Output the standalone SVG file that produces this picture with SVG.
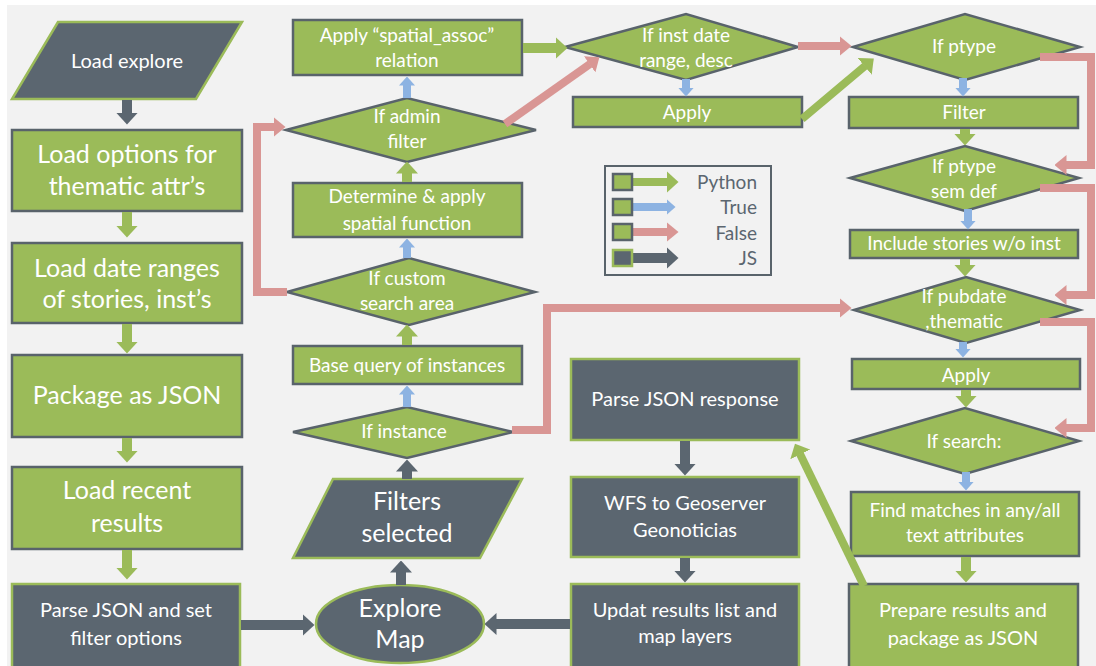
<svg xmlns="http://www.w3.org/2000/svg" width="1096" height="666" viewBox="0 0 1096 666">
  <style>
    .g { fill: #9bbb59; stroke: #59636b; stroke-width: 2.5; }
    .d { fill: #5b6670; stroke: #9bbb59; stroke-width: 2.5; }
    text { font-family: Lato, "Liberation Sans", sans-serif; fill: #ffffff; text-anchor: middle; }
    .big { font-size: 25px; }
    .mid { font-size: 20px; }
    .sm { font-size: 19px; }
    .leg { font-size: 19px; fill: #5b6670; text-anchor: end; }
    .c-js { stroke: #5b6670; stroke-width: 10; fill: none; }
    .c-py { stroke: #9bbb59; stroke-width: 10; fill: none; }
    .c-py2 { stroke: #9bbb59; stroke-width: 8; fill: none; }
    .c-t { stroke: #8db3e2; stroke-width: 8; fill: none; }
    .c-f { stroke: #d99694; stroke-width: 8; fill: none; }
  </style>
  <defs>
    <marker id="hJs" markerUnits="userSpaceOnUse" markerWidth="12" markerHeight="22" viewBox="0 0 12 22" refX="0.5" refY="11" orient="auto">
      <path d="M0,0 L12,11 L0,22 Z" fill="#5b6670"/>
    </marker>
    <marker id="hPy" markerUnits="userSpaceOnUse" markerWidth="12" markerHeight="22" viewBox="0 0 12 22" refX="0.5" refY="11" orient="auto">
      <path d="M0,0 L12,11 L0,22 Z" fill="#9bbb59"/>
    </marker>
    <marker id="hT" markerUnits="userSpaceOnUse" markerWidth="9" markerHeight="16" viewBox="0 0 9 16" refX="0.5" refY="8" orient="auto">
      <path d="M0,0 L9,8 L0,16 Z" fill="#8db3e2"/>
    </marker>
    <marker id="hF" markerUnits="userSpaceOnUse" markerWidth="12" markerHeight="20" viewBox="0 0 12 20" refX="0.5" refY="10" orient="auto">
      <path d="M0,0 L12,10 L0,20 Z" fill="#d99694"/>
    </marker>
  </defs>

  <rect x="0" y="0" width="1096" height="666" fill="#ffffff"/>
  <rect x="7" y="5" width="1089" height="661" fill="#f2f2f2"/>

  <!-- left column -->
  <g id="load-explore">
    <polygon class="d" points="58,22 242,22 196,99 12,99"/>
    <text class="mid" x="127" y="68">Load explore</text>
  </g>
  <g id="load-options">
    <rect class="g" x="12" y="130" width="230" height="81"/>
    <text class="big" x="127" y="163">Load options for</text>
    <text class="big" x="127" y="195">thematic attr’s</text>
  </g>
  <g id="load-dates">
    <rect class="g" x="12" y="243" width="230" height="80"/>
    <text class="big" x="127" y="277">Load date ranges</text>
    <text class="big" x="127" y="308">of stories, inst’s</text>
  </g>
  <g id="package-json">
    <rect class="g" x="12" y="355" width="230" height="82"/>
    <text class="big" x="127" y="404">Package as JSON</text>
  </g>
  <g id="load-recent">
    <rect class="g" x="12" y="467" width="230" height="82"/>
    <text class="big" x="127" y="499">Load recent</text>
    <text class="big" x="127" y="532">results</text>
  </g>
  <g id="parse-json-set">
    <rect class="d" x="12" y="584" width="228" height="86"/>
    <text class="mid" x="126" y="617">Parse JSON and set</text>
    <text class="mid" x="126" y="645">filter options</text>
  </g>

  <!-- middle column -->
  <g id="explore-map">
    <ellipse class="d" cx="400" cy="624" rx="84" ry="39"/>
    <text class="big" x="400" y="617">Explore</text>
    <text class="big" x="400" y="648">Map</text>
  </g>
  <g id="filters-selected">
    <polygon class="d" points="333,479 522,479 480,558 293,558"/>
    <text class="big" x="407" y="510">Filters</text>
    <text class="big" x="407" y="542">selected</text>
  </g>
  <g id="if-instance">
    <polygon class="g" points="293,432 407,407 513,432 407,458"/>
    <text class="sm" x="404" y="438">If instance</text>
  </g>
  <g id="base-query">
    <rect class="g" x="293" y="346" width="229" height="38"/>
    <text class="sm" x="407" y="372">Base query of instances</text>
  </g>
  <g id="if-custom-area">
    <polygon class="g" points="287,292 409,258 535,292 409,325"/>
    <text class="sm" x="407" y="285">If custom</text>
    <text class="sm" x="407" y="310">search area</text>
  </g>
  <g id="spatial-function">
    <rect class="g" x="293" y="183" width="229" height="54"/>
    <text class="sm" x="407" y="203">Determine &amp; apply</text>
    <text class="sm" x="407" y="230">spatial function</text>
  </g>
  <g id="if-admin-filter">
    <polygon class="g" points="286,130 407,98 536,130 407,162"/>
    <text class="sm" x="407" y="123">If admin</text>
    <text class="sm" x="407" y="148">filter</text>
  </g>
  <g id="spatial-assoc">
    <rect class="g" x="293" y="20" width="229" height="55"/>
    <text class="sm" x="407" y="42">Apply “spatial_assoc”</text>
    <text class="sm" x="407" y="67">relation</text>
  </g>

  <!-- date range branch -->
  <g id="if-inst-date">
    <polygon class="g" points="565,47 686,14 798,47 686,80"/>
    <text class="sm" x="686" y="42">If inst date</text>
    <text class="sm" x="686" y="67">range, desc</text>
  </g>
  <g id="apply-dates">
    <rect class="g" x="573" y="97" width="229" height="30"/>
    <text class="sm" x="687" y="119">Apply</text>
  </g>

  <!-- JS result chain -->
  <g id="parse-json-response">
    <rect class="d" x="571" y="359" width="228" height="81"/>
    <text class="mid" x="685" y="406">Parse JSON response</text>
  </g>
  <g id="wfs-geoserver">
    <rect class="d" x="571" y="477" width="228" height="80"/>
    <text class="mid" x="685" y="510">WFS to Geoserver</text>
    <text class="mid" x="685" y="537">Geonoticias</text>
  </g>
  <g id="update-results">
    <rect class="d" x="571" y="584" width="228" height="86"/>
    <text class="mid" x="685" y="617">Updat results list and</text>
    <text class="mid" x="685" y="643">map layers</text>
  </g>

  <!-- right column -->
  <g id="if-ptype">
    <polygon class="g" points="853,47 965,14 1080,47 965,80"/>
    <text class="sm" x="964" y="53">If ptype</text>
  </g>
  <g id="filter-ptype">
    <rect class="g" x="849" y="97" width="229" height="31"/>
    <text class="sm" x="964" y="119">Filter</text>
  </g>
  <g id="if-ptype-semdef">
    <polygon class="g" points="850,178 965,146 1079,178 965,211"/>
    <text class="sm" x="964" y="173">If ptype</text>
    <text class="sm" x="964" y="198">sem def</text>
  </g>
  <g id="include-stories">
    <rect class="g" x="850" y="230" width="228" height="28"/>
    <text class="sm" x="964" y="250">Include stories w/o inst</text>
  </g>
  <g id="if-pubdate">
    <polygon class="g" points="854,310 966,277 1080,310 966,343"/>
    <text class="sm" x="964" y="303">If pubdate</text>
    <text class="sm" x="964" y="328">,thematic</text>
  </g>
  <g id="apply-pubdate">
    <rect class="g" x="852" y="359" width="228" height="30"/>
    <text class="sm" x="966" y="382">Apply</text>
  </g>
  <g id="if-search">
    <polygon class="g" points="851,441 965,408 1079,441 965,474"/>
    <text class="sm" x="964" y="448">If search:</text>
  </g>
  <g id="find-matches">
    <rect class="g" x="851" y="492" width="228" height="64"/>
    <text class="sm" x="965" y="517">Find matches in any/all</text>
    <text class="sm" x="965" y="542">text attributes</text>
  </g>
  <g id="prepare-results">
    <rect class="g" x="849" y="584" width="229" height="86"/>
    <text class="mid" x="963" y="617">Prepare results and</text>
    <text class="mid" x="963" y="645">package as JSON</text>
  </g>

  <!-- legend -->
  <g id="legend">
    <rect x="605" y="166" width="166" height="109" fill="none" stroke="#59636b" stroke-width="2"/>
    <line x1="632" y1="182" x2="667" y2="182" class="c-py2" marker-end="url(#hPy)"/>
    <rect class="g" x="613" y="174" width="19" height="16" stroke-width="2"/>
    <line x1="632" y1="207" x2="667" y2="207" class="c-t" marker-end="url(#hT)"/>
    <rect class="g" x="613" y="199" width="19" height="16" stroke-width="2"/>
    <line x1="632" y1="232" x2="667" y2="232" class="c-f" marker-end="url(#hF)"/>
    <rect class="g" x="613" y="224" width="19" height="16" stroke-width="2"/>
    <line x1="632" y1="258" x2="667" y2="258" class="c-js" stroke-width="8" marker-end="url(#hJs)"/>
    <rect class="d" x="613" y="250" width="19" height="16" stroke-width="2"/>
    <text class="leg" x="757" y="189">Python</text>
    <text class="leg" x="757" y="214">True</text>
    <text class="leg" x="757" y="240">False</text>
    <text class="leg" x="757" y="265">JS</text>
  </g>

  <!-- connectors -->
  <g id="connectors">
    <!-- JS -->
    <line class="c-js" x1="127" y1="100" x2="127" y2="113" marker-end="url(#hJs)"/>
    <line class="c-js" x1="241" y1="625" x2="303" y2="625" marker-end="url(#hJs)"/>
    <line class="c-js" x1="401" y1="585" x2="401" y2="572" marker-end="url(#hJs)"/>
    <line class="c-js" x1="407" y1="479" x2="407" y2="471" marker-end="url(#hJs)"/>
    <line class="c-js" x1="685" y1="441" x2="685" y2="464" marker-end="url(#hJs)"/>
    <line class="c-js" x1="685" y1="558" x2="685" y2="571" marker-end="url(#hJs)"/>
    <line class="c-js" x1="570" y1="624" x2="496" y2="624" marker-end="url(#hJs)"/>
    <!-- Python -->
    <line class="c-py" x1="127" y1="212" x2="127" y2="226" marker-end="url(#hPy)"/>
    <line class="c-py" x1="127" y1="324" x2="127" y2="342" marker-end="url(#hPy)"/>
    <line class="c-py" x1="127" y1="438" x2="127" y2="451" marker-end="url(#hPy)"/>
    <line class="c-py" x1="127" y1="550" x2="127" y2="568" marker-end="url(#hPy)"/>
    <line class="c-py" x1="407" y1="345" x2="407" y2="336" marker-end="url(#hPy)"/>
    <line class="c-py" x1="407" y1="182" x2="407" y2="173" marker-end="url(#hPy)"/>
    <line class="c-py" x1="523" y1="48" x2="556" y2="48" marker-end="url(#hPy)"/>
    <line class="c-py2" x1="802" y1="119" x2="865" y2="66" marker-end="url(#hPy)"/>
    <line class="c-py" x1="965" y1="129" x2="965" y2="134" marker-end="url(#hPy)"/>
    <line class="c-py" x1="965" y1="259" x2="965" y2="265" marker-end="url(#hPy)"/>
    <line class="c-py" x1="966" y1="390" x2="966" y2="396" marker-end="url(#hPy)"/>
    <line class="c-py" x1="966" y1="557" x2="966" y2="571" marker-end="url(#hPy)"/>
    <line class="c-py2" x1="864" y1="586" x2="800" y2="454" marker-end="url(#hPy)"/>
    <!-- True -->
    <line class="c-t" x1="407" y1="407" x2="407" y2="394" marker-end="url(#hT)"/>
    <line class="c-t" x1="407" y1="258" x2="407" y2="247" marker-end="url(#hT)"/>
    <line class="c-t" x1="407" y1="98" x2="407" y2="85" marker-end="url(#hT)"/>
    <line class="c-t" x1="686" y1="79" x2="686" y2="88" marker-end="url(#hT)"/>
    <line class="c-t" x1="963" y1="78" x2="963" y2="88" marker-end="url(#hT)"/>
    <line class="c-t" x1="968" y1="209" x2="968" y2="221" marker-end="url(#hT)"/>
    <line class="c-t" x1="963" y1="342" x2="963" y2="349" marker-end="url(#hT)"/>
    <line class="c-t" x1="966" y1="472" x2="966" y2="482" marker-end="url(#hT)"/>
    <!-- False -->
    <line class="c-f" x1="505" y1="124" x2="590" y2="64" marker-end="url(#hF)"/>
    <polyline class="c-f" points="287,292 257,292 257,127 274,127" marker-end="url(#hF)"/>
    <line class="c-f" x1="798" y1="46" x2="840" y2="46" marker-end="url(#hF)"/>
    <polyline class="c-f" points="1040,57 1091,57 1091,165 1066,165" marker-end="url(#hF)"/>
    <polyline class="c-f" points="1040,188 1091,188 1091,295 1066,295" marker-end="url(#hF)"/>
    <polyline class="c-f" points="512,430 547,430 547,308 840,308" marker-end="url(#hF)"/>
    <polyline class="c-f" points="1040,322 1091,322 1091,428 1066,428" marker-end="url(#hF)"/>
  </g>
</svg>
